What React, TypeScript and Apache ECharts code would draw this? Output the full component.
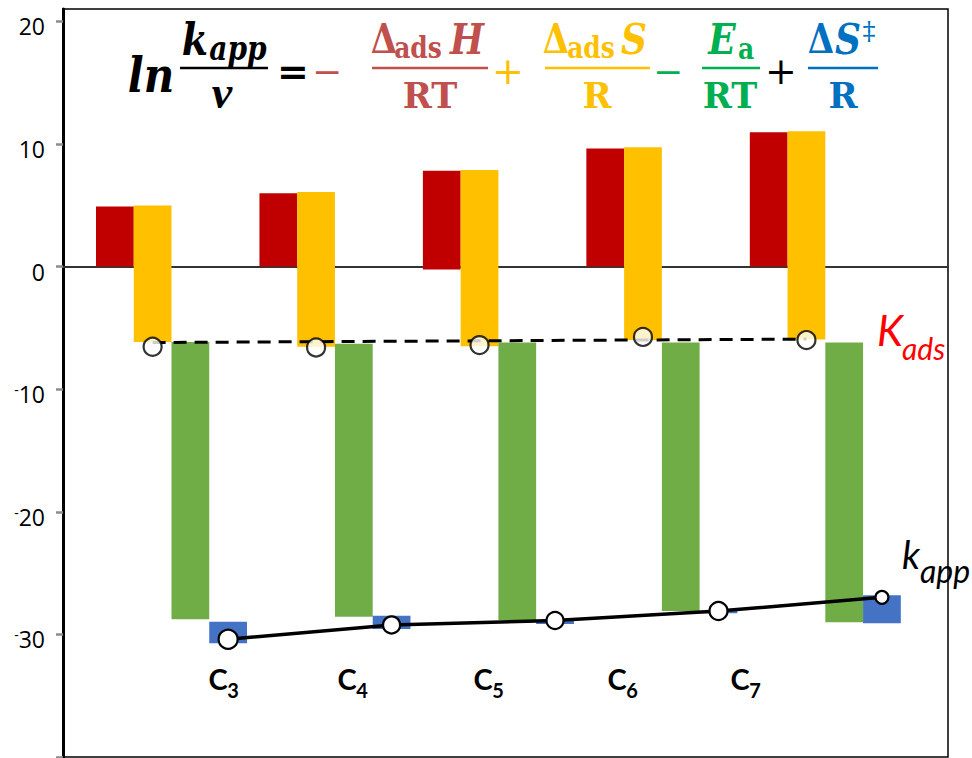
import React, { useEffect, useRef } from "react";
import * as echarts from "echarts";

// Chain length of each alkane (drawn as C with subscript)
const carbonNumbers = ["3", "4", "5", "6", "7"];

// Waterfall terms of ln(k_app / ν) for each alkane
const enthalpyBase = [0, 0, -0.25, 0, 0];
const enthalpyTop = [4.9, 5.97, 7.8, 9.62, 10.95];
const entropyTop = [4.97, 6.08, 7.88, 9.72, 11.03];
const entropyBottom = [-6.15, -6.55, -6.5, -6.0, -5.95];
const activationTop = [-6.15, -6.3, -6.2, -6.2, -6.2];
const activationBottom = [-28.77, -28.56, -28.83, -28.1, -29.01];
const transitionFrom = [-28.97, -28.48, -28.83, -28.1, -29.1];
const transitionTo = [-30.73, -29.56, -29.15, -28.27, -26.8];

// Markers
const lnKads = [-6.55, -6.6, -6.41, -5.74, -6.0];
const lnKapp = [-30.4, -29.23, -28.87, -28.1, -26.98];
const kappMarkerSize = [19, 17, 17, 18, 13];
const kadsTrend = [-6.2, -5.92];

// Axis ticks
const yTickValues = [-40, -30, -20, -10, 0, 10, 20];
const yLabelValues = [-30, -20, -10, 0, 10, 20];

// Layout: each alkane takes four bar slots, groups repeat every GROUP_PERIOD slots
const GROUP_PERIOD = 4.33;
const slotX = (g: number, j: number) => g * GROUP_PERIOD + j;

const RED = "#C00000";
const YELLOW = "#FFC000";
const GREEN = "#70AD47";
const BLUE = "#4472C4";

const EQ_RED = "#C0504D";
const EQ_YELLOW = "#FFC000";
const EQ_GREEN = "#00B050";
const EQ_BLUE = "#0070C0";

const labelX = [218, 347, 483, 617, 740];

function floatingBars(name: string, slot: number, from: number[], to: number[], color: string) {
  return {
    name,
    type: "custom",
    z: 2,
    encode: { x: 0, y: [1, 2] },
    data: from.map((v, g) => [slotX(g, slot), v, to[g]]),
    renderItem: (_params: any, api: any) => {
      const x0 = api.value(0);
      const a = api.value(1);
      const b = api.value(2);
      const p1 = api.coord([x0, Math.max(a, b)]);
      const p2 = api.coord([x0 + 1, Math.min(a, b)]);
      return {
        type: "rect",
        shape: { x: p1[0], y: p1[1], width: p2[0] - p1[0], height: p2[1] - p1[1] },
        style: { fill: color },
      };
    },
  };
}

const SERIF = '"DejaVu Serif", serif';

function txt(text: string, x: number, y: number, size: number, fill: string, opts: any = {}) {
  const style = {
    text,
    fill,
    fontSize: size,
    fontFamily: opts.family || SERIF,
    fontWeight: opts.weight || "bold",
    fontStyle: opts.style || "normal",
    align: opts.align || "center",
    verticalAlign: "middle",
    lineHeight: Math.round(size * 1.4),
  };
  if (opts.sy && opts.sy !== 1) {
    return { type: "text", z: 10, x, y, scaleY: opts.sy, style: { ...style, x: 0, y: 0 } };
  }
  return { type: "text", z: 10, style: { ...style, x, y } };
}

function bar(x1: number, x2: number, y: number, fill: string) {
  return {
    type: "rect",
    z: 10,
    shape: { x: x1, y: y - 1.3, width: x2 - x1, height: 2.6 },
    style: { fill },
  };
}

function buildGraphics() {
  const g: any[] = [];
  const numY = 39;
  const denY = 95;
  const lineY = 68;
  const opY = 71;
  const sy = 1.18;
  const num = (t: string, x: number, y: number, s: number, c: string, o: any = {}) =>
    g.push(txt(t, x, y, s, c, { sy, ...o }));
  // left-hand side
  g.push(txt("ln", 151, 75, 42, "#000", { style: "italic", sy: 1.15 }));
  num("k", 195, numY, 38, "#000", { style: "italic" });
  num("app", 238, numY + 9, 28, "#000", { style: "italic" });
  g.push(bar(180, 268, lineY, "#000"));
  g.push(txt("ν", 222, 92, 46, "#000", { style: "italic", family: '"Liberation Serif", serif' }));
  g.push(txt("=", 293, opY, 38, "#000"));
  // −ΔadsH/RT
  g.push(txt("−", 327, opY, 36, EQ_RED, { weight: "normal" }));
  num("Δ", 384, numY, 34, EQ_RED);
  num("ads", 418, numY + 8, 25, EQ_RED);
  num("H", 467, numY, 36, EQ_RED, { style: "italic" });
  g.push(bar(372, 488, lineY, EQ_RED));
  g.push(txt("RT", 430, denY, 35, EQ_RED));
  // +ΔadsS/R
  g.push(txt("+", 508, opY, 38, EQ_YELLOW, { weight: "normal" }));
  num("Δ", 556, numY, 34, EQ_YELLOW);
  num("ads", 591, numY + 8, 25, EQ_YELLOW);
  num("S", 634, numY, 36, EQ_YELLOW, { style: "italic" });
  g.push(bar(545, 650, lineY, EQ_YELLOW));
  g.push(txt("R", 597, denY, 35, EQ_YELLOW));
  // −Ea/RT
  g.push(txt("−", 668, opY, 36, EQ_GREEN, { weight: "normal" }));
  num("E", 722, numY, 36, EQ_GREEN, { style: "italic" });
  num("a", 746, numY + 9, 25, EQ_GREEN);
  g.push(bar(702, 760, lineY, EQ_GREEN));
  g.push(txt("RT", 730, denY, 35, EQ_GREEN));
  // +ΔS‡/R
  g.push(txt("+", 781, opY, 38, "#000", { weight: "normal" }));
  num("Δ", 821, numY, 34, EQ_BLUE);
  num("S", 848, numY, 36, EQ_BLUE, { style: "italic" });
  g.push(txt("‡", 869, numY - 8, 26, EQ_BLUE, { weight: "normal" }));
  g.push(bar(808, 878, lineY, EQ_BLUE));
  g.push(txt("R", 843, denY, 35, EQ_BLUE));

  // K_ads and k_app tags
  g.push(txt("K", 890, 330, 42, "#FF0000", { family: "Lato", weight: "normal", style: "italic" }));
  g.push(txt("ads", 902, 348, 30, "#FF0000", { family: "Lato", weight: "normal", style: "italic", align: "left" }));
  g.push(txt("k", 911, 554, 38, "#000", { family: "Lato", weight: "normal", style: "italic" }));
  g.push(txt("app", 920, 570, 32, "#000", { family: "Lato", weight: "normal", style: "italic", align: "left" }));

  // compound labels
  carbonNumbers.forEach((n, i) => {
    g.push(txt("C", labelX[i], 678, 29, "#000", { family: "Lato", weight: "bold" }));
    g.push(txt(n, labelX[i] + 15, 690, 20, "#000", { family: "Lato", weight: "bold" }));
  });
  return g;
}

export default function App() {
  const ref = useRef<HTMLDivElement>(null);

  useEffect(() => {
    if (!ref.current) return;
    const chart = echarts.init(ref.current, undefined, { renderer: "svg" });

    const option: any = {
      animation: false,
      backgroundColor: "#fff",
      grid: {
        left: 63,
        right: 24,
        top: 9,
        bottom: 1,
        show: true,
        borderColor: "#000",
        borderWidth: 1.5,
        backgroundColor: "transparent",
      },
      xAxis: {
        type: "value",
        min: -0.874,
        max: 22.57,
        axisLine: { show: true, onZero: true, lineStyle: { color: "#333", width: 1.8 } },
        axisTick: { show: false },
        axisLabel: { show: false },
        splitLine: { show: false },
      },
      yAxis: {
        type: "value",
        min: -40,
        max: 21,
        interval: 10,
        axisLine: { show: true, onZero: false, lineStyle: { color: "#000", width: 3 } },
        axisTick: {
          show: true,
          length: 7,
          customValues: yTickValues,
          lineStyle: { color: "#8c8c8c", width: 2.5 },
        },
        axisLabel: {
          customValues: yLabelValues,
          margin: 18,
          padding: [10, 0, 0, 0],
          formatter: (v: number) => (v < 0 ? `{m|-}{n|${-v}}` : `{n|${v}}`),
          rich: {
            n: { fontFamily: "Open Sans", fontSize: 23, color: "#000" },
            m: { fontFamily: "Open Sans", fontSize: 14, color: "#000", verticalAlign: "top" },
          },
        },
        splitLine: { show: false },
      },
      series: [
        floatingBars("ΔadsH", 0, enthalpyBase, enthalpyTop, RED),
        floatingBars("ΔadsS", 1, entropyTop, entropyBottom, YELLOW),
        floatingBars("Ea", 2, activationTop, activationBottom, GREEN),
        floatingBars("ΔS‡", 3, transitionFrom, transitionTo, BLUE),
        {
          name: "Kads trend",
          type: "line",
          z: 3,
          symbol: "none",
          data: [
            [slotX(0, 1) + 0.5, kadsTrend[0]],
            [slotX(4, 1) + 0.5, kadsTrend[1]],
          ],
          lineStyle: { color: "#000", width: 3, type: [13, 8] },
        },
        {
          name: "Kads",
          type: "scatter",
          z: 4,
          symbol: "circle",
          symbolSize: 18,
          data: lnKads.map((v, g) => [slotX(g, 1) + 0.5, v]),
          itemStyle: { color: "#fff", borderColor: "#000", borderWidth: 2.2 },
        },
        {
          name: "kapp",
          type: "line",
          z: 4,
          symbol: "circle",
          showAllSymbol: true,
          data: lnKapp.map((v, g) => ({ value: [slotX(g, 3) + 0.5, v], symbolSize: kappMarkerSize[g] })),
          lineStyle: { color: "#000", width: 3.5 },
          itemStyle: { color: "#fff", borderColor: "#000", borderWidth: 2.2 },
        },
      ],
      graphic: buildGraphics(),
    };

    chart.setOption(option);
    return () => chart.dispose();
  }, []);

  return (
    <div
      ref={ref}
      style={{ position: "fixed", left: 0, top: 0, width: 972, height: 758, background: "#fff" }}
    />
  );
}
